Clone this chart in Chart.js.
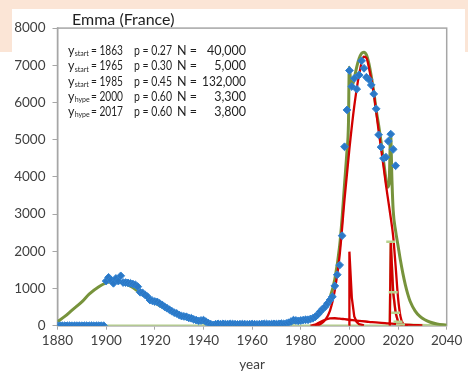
<!DOCTYPE html>
<html><head><meta charset="utf-8">
<script src="https://cdn.jsdelivr.net/npm/chart.js@4"></script>
<style>
html,body{margin:0;padding:0;background:#fff;}
#wrap{position:relative;width:468px;height:377px;overflow:hidden;background:#fff;}
.peach{position:absolute;background:#fbe5d6;}
canvas{position:absolute;left:0;top:0;}
</style></head><body>
<div id="wrap">
<div class="peach" style="left:0;top:0;width:468px;height:9px"></div>
<div class="peach" style="left:0;top:0;width:12px;height:52px"></div>
<div class="peach" style="left:465px;top:0;width:3px;height:52px"></div>
<canvas id="c" width="468" height="377"></canvas>
</div>
<script>
// ---- data ----
const chartTitle = 'Emma (France)';
const xAxisTitle = 'year';
const xTicks = [1880,1900,1920,1940,1960,1980,2000,2020,2040];
const yTicks = [0,1000,2000,3000,4000,5000,6000,7000,8000];

// observed births, one value per year starting at obsStartYear
const obsStartYear = 1880;
const obsValues = [
  0,0,0,0,0,0,0,0,0,0, 0,0,0,0,0,0,0,0,0,0,            // 1880-1899
  1200,1300,1230,1140,1270,1200,1340,1160,1160,1150,   // 1900-1909
  1140,1120,1100,1050,900,880,830,780,690,670,         // 1910-1919
  650,640,600,560,510,470,430,390,350,330,             // 1920-1929
  290,260,250,240,210,200,170,150,130,140,             // 1930-1939
  150,110,70,40,20,40,50,40,50,45,                     // 1940-1949
  40,50,45,40,35,40,45,40,35,40,                       // 1950-1959
  45,40,35,40,45,50,45,40,45,50,                       // 1960-1969
  45,50,55,50,60,80,110,150,140,130,                   // 1970-1979
  140,150,160,160,180,200,240,300,380,450,             // 1980-1989
  510,600,690,780,1070,1370,1630,2420,4810,5800,       // 1990-1999
  6860,6430,6650,6360,6740,7120,6920,6680,6620,6470,   // 2000-2009
  6230,5830,5130,4800,4500,4530,4960,5150,4740,4300    // 2010-2019
];

// total model (olive)
const totalYears = [1880,1883,1886,1890,1893,1897,1900,1902,1904,1906,1910,1914,1918,1922,1925,1928,1931,1934,1937,1940,1943,1946,1950,1955,1960,1965,1970,1975,1980,1983,1986,1988,1990,1992,1994,1996,1997,1998,1999,1999.6,1999.95,2000.5,2001.4,2002,2003,2004,2005,2006,2007,2008,2009,2010,2011,2012,2013,2014,2015,2015.6,2016.3,2016.95,2017.5,2018,2019,2020,2021,2022,2023,2024,2025,2027,2029,2031,2033,2036,2040];
const totalValues = [110,250,420,640,850,1050,1150,1180,1180,1160,1060,880,700,540,430,330,240,170,120,80,45,25,12,8,10,15,30,60,110,160,230,320,480,750,1250,2150,2900,3800,4700,5400,6950,6600,6500,6650,6950,7180,7320,7350,7280,7050,6700,6300,5800,5400,4950,4450,3950,3720,3800,5150,3900,3100,2550,2150,1750,1400,1100,850,650,400,250,160,100,45,15];

// component y_start = 1985 (red)
const mainYears = [1986,1988,1990,1992,1994,1996,1998,2000,2002,2004,2006,2007,2008,2010,2012,2014,2015,2016,2017,2018,2019,2020,2021,2022,2024];
const mainValues = [0,40,150,400,950,1900,3400,4750,5900,6750,7230,7200,6950,6250,5250,4300,3800,3350,2900,2400,1600,750,250,60,0];

// component y_start = 1965 (red, small)
const smallYears = [1984,1986,1988,1990,1992,1994,1996,1998,2000,2004,2008,2012,2016,2020,2025,2030];
const smallValues = [0,30,100,160,195,200,190,175,160,130,105,80,60,40,20,8];

// hype 2000 (red)
const hype2000Years = [1999.9,2000,2001,2002,2003,2004,2006];
const hype2000Values = [0,1990,750,250,100,40,10];

// hype 2017 (red + light green markers)
const hype2017Years = [2016.6,2017,2018,2019,2020,2021,2022];
const hype2017Values = [0,2258,897,350,108,30,5];
const hypeMarkYears = [1880,2016.6,2017,2018,2019,2020,2021,2040];
const hypeMarkValues = [0,0,2258,897,350,108,30,0];

// annotation text
const annKind = ['start','start','start','hype','hype'];
const annYear = ['1863','1965','1985','2000','2017'];
const annP = ['0.27','0.30','0.45','0.60','0.60'];
const annN = ['40,000','5,000','132,000','3,300','3,800'];

// ---- build ----
const pts = (xs, ys) => xs.map((x, i) => ({x, y: ys[i]}));
const obsPts = obsValues.map((v, i) => ({x: obsStartYear + i, y: v}));

const FONT = 'Lato, "Open Sans", sans-serif';
const RED = '#d20000';
const LIGHTGREEN = '#b7d28e';

const decor = {
  id: 'decor',
  beforeDatasetsDraw(chart) {
    const {ctx, chartArea: a} = chart;
    ctx.save();
    ctx.strokeStyle = '#a6a6a6';
    ctx.lineWidth = 1.5;
    ctx.strokeRect(a.left, a.top, a.right - a.left, a.bottom - a.top);
    ctx.restore();
  },
  afterDraw(chart) {
    const ctx = chart.ctx;
    ctx.save();
    ctx.fillStyle = '#1f1f1f';
    ctx.textBaseline = 'middle';
    ctx.textAlign = 'left';
    ctx.font = '16px ' + FONT;
    ctx.fillText(chartTitle, 72, 20);
    for (let i = 0; i < annYear.length; i++) {
      const y = 51 + i * 15.3;
      ctx.font = '12.5px ' + FONT;
      ctx.textAlign = 'left';
      ctx.fillText('y', 68, y);
      const wy = ctx.measureText('y').width;
      ctx.font = '7px ' + FONT;
      ctx.fillText(annKind[i], 68 + wy + 0.2, y + 3);
      ctx.font = '12.5px ' + FONT;
      ctx.fillText('= ' + annYear[i], 91, y, 32);
      ctx.fillText('p = ' + annP[i], 134, y, 38);
      ctx.fillText('N =', 177, y);
      ctx.textAlign = 'right';
      ctx.fillText(annN[i], 246, y, 44);
    }
    ctx.restore();
  }
};

const plainTick = v => String(v);

new Chart(document.getElementById('c'), {
  type: 'scatter',
  data: {
    datasets: [
      { data: obsPts, showLine: false, pointStyle: 'rectRot', pointRadius: 3.9,
        pointBackgroundColor: '#2b78c6', pointBorderColor: '#3283d2', pointBorderWidth: 1 },
      { data: pts(hypeMarkYears, hypeMarkValues), showLine: false, pointStyle: 'line',
        pointRadius: ctx => (ctx.raw && ctx.raw.y > 0 ? 4.5 : 0), pointBorderWidth: 2.5,
        pointBorderColor: LIGHTGREEN, pointBackgroundColor: LIGHTGREEN },
      { data: pts(hype2017Years, hype2017Values), showLine: true, borderColor: RED, borderWidth: 2.3,
        pointRadius: 0, tension: 0 },
      { data: pts(hype2000Years, hype2000Values), showLine: true, borderColor: RED, borderWidth: 2.3,
        pointRadius: 0, tension: 0 },
      { data: pts(mainYears, mainValues), showLine: true, borderColor: RED, borderWidth: 2.3,
        pointRadius: 0, cubicInterpolationMode: 'monotone' },
      { data: pts(smallYears, smallValues), showLine: true, borderColor: RED, borderWidth: 2.3,
        pointRadius: 0, cubicInterpolationMode: 'monotone' },
      { data: pts(totalYears, totalValues), showLine: true, borderColor: '#77933c', borderWidth: 3,
        pointRadius: 0, cubicInterpolationMode: 'monotone' },
      { data: pts(hypeMarkYears, hypeMarkValues), showLine: true, borderColor: LIGHTGREEN, borderWidth: 2.5,
        pointRadius: 0, tension: 0 }
    ]
  },
  options: {
    responsive: false,
    animation: false,
    devicePixelRatio: 1,
    layout: { padding: { left: 0, top: 28.1, right: 21.3, bottom: 0 } },
    plugins: { legend: { display: false }, tooltip: { enabled: false }, title: { display: false } },
    scales: {
      x: {
        type: 'linear', min: 1880, max: 2040,
        afterBuildTicks: s => { s.ticks = xTicks.map(v => ({value: v})); },
        afterFit: s => { s.height = 51.3; },
        ticks: { color: '#404040', font: { family: FONT, size: 13.5 }, padding: 3, maxRotation: 0, autoSkip: false, callback: plainTick },
        grid: { display: true, drawOnChartArea: false, drawTicks: true, tickLength: 4, color: '#a6a6a6' },
        border: { display: true, color: '#bfbfbf', width: 1.5 },
        title: { display: true, text: xAxisTitle, color: '#404040', font: { family: FONT, size: 13.5 }, padding: { top: 2, bottom: 4 } }
      },
      y: {
        type: 'linear', min: 0, max: 8000,
        afterBuildTicks: s => { s.ticks = yTicks.map(v => ({value: v})); },
        afterFit: s => { s.width = 57.5; },
        ticks: { color: '#404040', font: { family: FONT, size: 13.5 }, padding: 7, autoSkip: false, callback: plainTick },
        grid: { display: true, drawOnChartArea: false, drawTicks: true, tickLength: 5, color: '#a6a6a6' },
        border: { display: true, color: '#bfbfbf', width: 1.5 }
      }
    }
  },
  plugins: [decor]
});
</script>
</body></html>
